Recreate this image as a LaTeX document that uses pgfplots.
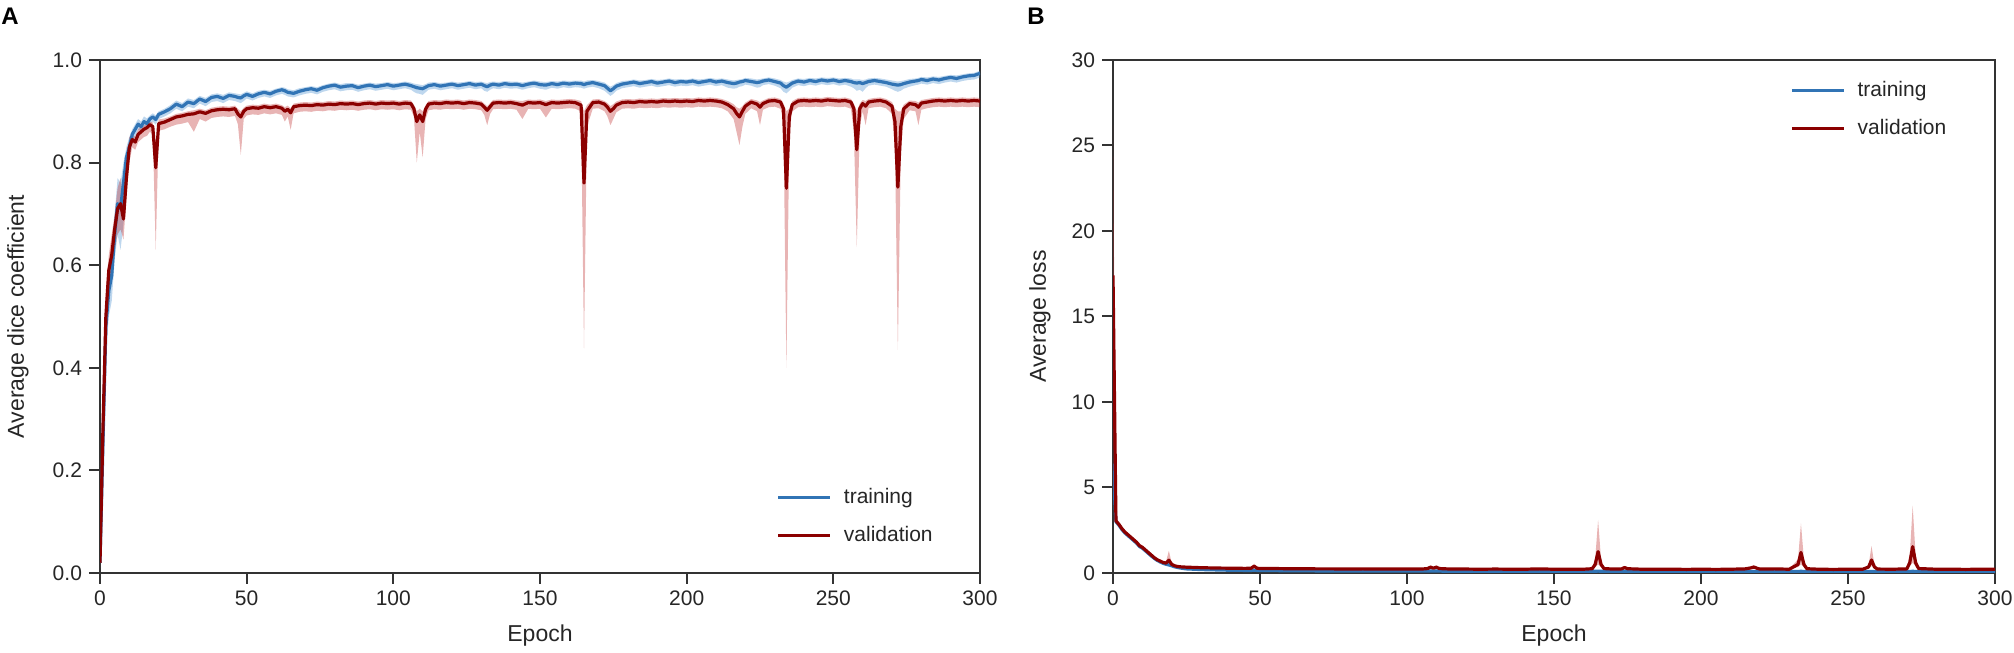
\documentclass[border=0pt]{standalone}
\usepackage{fontspec}
\setmainfont{Liberation Sans}
\usepackage{pgfplots}
\usepackage{pgfplotstable}
\pgfplotsset{compat=1.18}
\usepgfplotslibrary{fillbetween}

\definecolor{trainblue}{RGB}{49,116,181}
\definecolor{valred}{RGB}{139,0,0}
\definecolor{bandblue}{RGB}{70,140,205}
\definecolor{bandred}{RGB}{190,40,40}
\definecolor{spine}{RGB}{51,51,51}

% dice coefficient: epoch, training mean/low/high, validation mean/low/high
\pgfplotstableread{
ep tm tl th vm vl vh
0 0.02 0.01 0.03 0.02 0.01 0.03
1 0.25 0.20 0.30 0.28 0.22 0.34
2 0.48 0.42 0.53 0.50 0.44 0.55
3 0.55 0.50 0.60 0.59 0.55 0.62
4 0.58 0.53 0.63 0.62 0.58 0.66
5 0.66 0.61 0.70 0.67 0.63 0.70
6 0.72 0.66 0.77 0.71 0.66 0.75
7 0.71 0.63 0.76 0.72 0.67 0.77
8 0.76 0.68 0.80 0.69 0.65 0.73
9 0.81 0.77 0.83 0.77 0.73 0.80
10 0.83 0.81 0.85 0.83 0.80 0.85
11 0.855 0.84 0.865 0.845 0.83 0.855
12 0.865 0.85 0.875 0.84 0.825 0.85
13 0.875 0.865 0.885 0.855 0.84 0.865
14 0.87 0.86 0.88 0.86 0.845 0.87
15 0.88 0.87 0.89 0.865 0.85 0.872
16 0.876 0.866 0.886 0.868 0.852 0.876
17 0.885 0.875 0.892 0.874 0.86 0.88
18 0.889 0.88 0.896 0.87 0.856 0.878
19 0.884 0.874 0.892 0.79 0.63 0.84
20 0.894 0.885 0.9 0.876 0.862 0.884
22 0.899 0.89 0.905 0.879 0.865 0.886
24 0.905 0.896 0.912 0.884 0.87 0.89
26 0.914 0.905 0.921 0.889 0.874 0.895
28 0.909 0.9 0.916 0.891 0.876 0.897
30 0.918 0.909 0.925 0.894 0.879 0.9
32 0.915 0.906 0.922 0.895 0.86 0.902
34 0.924 0.915 0.93 0.899 0.885 0.905
36 0.919 0.91 0.926 0.896 0.88 0.902
38 0.927 0.918 0.933 0.901 0.887 0.907
40 0.929 0.92 0.935 0.903 0.889 0.909
42 0.925 0.916 0.932 0.904 0.89 0.91
44 0.931 0.922 0.937 0.903 0.889 0.909
46 0.929 0.92 0.935 0.905 0.891 0.911
47 0.927 0.918 0.934 0.895 0.875 0.905
48 0.926 0.916 0.933 0.889 0.815 0.9
49 0.93 0.92 0.936 0.9 0.885 0.907
50 0.933 0.925 0.939 0.905 0.892 0.911
52 0.929 0.921 0.935 0.907 0.894 0.913
54 0.934 0.926 0.94 0.906 0.893 0.912
56 0.937 0.929 0.942 0.909 0.896 0.915
58 0.934 0.926 0.94 0.907 0.894 0.913
60 0.939 0.931 0.944 0.909 0.896 0.915
62 0.942 0.934 0.947 0.906 0.893 0.912
63 0.94 0.932 0.946 0.9 0.88 0.908
64 0.937 0.929 0.943 0.904 0.89 0.911
65 0.936 0.928 0.942 0.897 0.864 0.906
66 0.935 0.927 0.941 0.909 0.896 0.915
68 0.939 0.931 0.945 0.911 0.899 0.917
70 0.942 0.934 0.947 0.912 0.9 0.918
72 0.944 0.936 0.949 0.911 0.899 0.917
74 0.941 0.933 0.947 0.913 0.901 0.919
76 0.946 0.938 0.951 0.912 0.9 0.918
78 0.949 0.941 0.954 0.914 0.902 0.92
80 0.951 0.943 0.956 0.913 0.901 0.919
82 0.947 0.939 0.953 0.915 0.903 0.921
84 0.949 0.941 0.955 0.914 0.902 0.92
86 0.95 0.942 0.955 0.915 0.903 0.921
88 0.946 0.938 0.952 0.913 0.901 0.919
90 0.949 0.941 0.954 0.915 0.903 0.921
92 0.951 0.943 0.956 0.916 0.904 0.922
94 0.948 0.94 0.954 0.914 0.902 0.92
96 0.95 0.942 0.955 0.916 0.904 0.922
98 0.952 0.944 0.957 0.915 0.903 0.921
100 0.949 0.941 0.955 0.916 0.904 0.922
102 0.951 0.943 0.956 0.914 0.902 0.92
104 0.953 0.945 0.958 0.916 0.904 0.922
106 0.95 0.942 0.956 0.915 0.903 0.921
107 0.948 0.938 0.954 0.905 0.89 0.913
108 0.946 0.935 0.953 0.88 0.8 0.9
109 0.945 0.934 0.952 0.893 0.86 0.905
110 0.944 0.932 0.951 0.88 0.81 0.9
111 0.947 0.937 0.953 0.904 0.885 0.912
112 0.95 0.942 0.956 0.914 0.902 0.92
114 0.952 0.944 0.957 0.916 0.904 0.922
116 0.949 0.941 0.955 0.915 0.903 0.921
118 0.951 0.943 0.956 0.917 0.905 0.923
120 0.953 0.945 0.958 0.916 0.904 0.922
122 0.95 0.942 0.956 0.917 0.905 0.923
124 0.952 0.944 0.957 0.915 0.903 0.921
126 0.954 0.946 0.959 0.917 0.905 0.923
128 0.951 0.943 0.957 0.916 0.904 0.922
130 0.953 0.945 0.958 0.914 0.902 0.92
131 0.95 0.94 0.956 0.908 0.893 0.915
132 0.948 0.938 0.955 0.902 0.873 0.91
133 0.951 0.942 0.957 0.909 0.895 0.916
134 0.953 0.945 0.958 0.916 0.904 0.922
136 0.951 0.943 0.957 0.917 0.905 0.923
138 0.954 0.946 0.959 0.916 0.904 0.922
140 0.952 0.944 0.958 0.917 0.905 0.923
142 0.953 0.945 0.958 0.915 0.903 0.921
144 0.95 0.942 0.956 0.912 0.885 0.92
146 0.953 0.945 0.958 0.917 0.905 0.923
148 0.955 0.947 0.96 0.916 0.904 0.922
150 0.952 0.944 0.958 0.917 0.905 0.923
152 0.951 0.942 0.957 0.913 0.888 0.92
154 0.954 0.946 0.959 0.917 0.905 0.923
156 0.952 0.944 0.958 0.916 0.904 0.922
158 0.955 0.947 0.96 0.917 0.905 0.923
160 0.953 0.945 0.959 0.918 0.906 0.924
162 0.955 0.947 0.96 0.917 0.905 0.923
164 0.954 0.946 0.96 0.912 0.9 0.92
165 0.952 0.944 0.958 0.76 0.438 0.9
166 0.954 0.946 0.96 0.9 0.87 0.912
168 0.956 0.948 0.961 0.917 0.905 0.923
170 0.953 0.945 0.959 0.918 0.906 0.924
172 0.95 0.94 0.956 0.914 0.9 0.92
173 0.945 0.935 0.952 0.908 0.89 0.916
174 0.94 0.93 0.948 0.9 0.873 0.91
175 0.944 0.934 0.951 0.905 0.885 0.914
176 0.949 0.94 0.955 0.912 0.898 0.919
178 0.953 0.945 0.959 0.917 0.905 0.923
180 0.955 0.947 0.96 0.918 0.906 0.924
182 0.957 0.949 0.962 0.917 0.905 0.923
184 0.954 0.946 0.96 0.919 0.907 0.925
186 0.956 0.948 0.961 0.918 0.906 0.924
188 0.958 0.95 0.963 0.919 0.907 0.925
190 0.955 0.947 0.961 0.918 0.906 0.924
192 0.957 0.949 0.962 0.92 0.908 0.926
194 0.959 0.951 0.964 0.919 0.907 0.925
196 0.956 0.948 0.962 0.92 0.908 0.926
198 0.958 0.95 0.963 0.919 0.907 0.925
200 0.957 0.949 0.962 0.92 0.908 0.926
202 0.959 0.951 0.964 0.919 0.907 0.925
204 0.956 0.948 0.962 0.921 0.909 0.927
206 0.958 0.95 0.963 0.92 0.908 0.926
208 0.96 0.952 0.965 0.921 0.909 0.927
210 0.957 0.949 0.963 0.92 0.908 0.926
212 0.959 0.951 0.964 0.918 0.906 0.924
214 0.956 0.946 0.962 0.913 0.9 0.92
216 0.954 0.944 0.96 0.905 0.885 0.914
217 0.955 0.945 0.961 0.896 0.86 0.908
218 0.957 0.948 0.962 0.889 0.834 0.905
219 0.958 0.949 0.963 0.9 0.87 0.91
220 0.96 0.952 0.965 0.91 0.895 0.917
222 0.958 0.95 0.964 0.918 0.906 0.924
224 0.956 0.946 0.962 0.914 0.9 0.921
225 0.957 0.947 0.963 0.908 0.873 0.918
226 0.959 0.951 0.964 0.915 0.903 0.921
228 0.961 0.953 0.966 0.92 0.908 0.926
230 0.958 0.95 0.964 0.921 0.909 0.927
232 0.955 0.945 0.961 0.918 0.905 0.924
233 0.95 0.938 0.958 0.905 0.88 0.915
234 0.947 0.935 0.956 0.75 0.4 0.9
235 0.951 0.94 0.958 0.89 0.86 0.905
236 0.955 0.946 0.961 0.913 0.9 0.92
238 0.959 0.951 0.964 0.92 0.908 0.926
240 0.957 0.949 0.963 0.921 0.909 0.927
242 0.96 0.952 0.965 0.92 0.908 0.926
244 0.958 0.95 0.964 0.921 0.909 0.927
246 0.961 0.953 0.966 0.92 0.908 0.926
248 0.959 0.951 0.965 0.922 0.91 0.928
250 0.961 0.953 0.966 0.921 0.909 0.927
252 0.958 0.95 0.964 0.92 0.908 0.926
254 0.96 0.952 0.965 0.921 0.909 0.927
256 0.958 0.948 0.964 0.918 0.905 0.924
257 0.956 0.945 0.962 0.905 0.86 0.915
258 0.955 0.94 0.962 0.825 0.635 0.9
259 0.956 0.942 0.962 0.905 0.87 0.915
260 0.954 0.938 0.961 0.915 0.9 0.922
261 0.956 0.945 0.962 0.91 0.873 0.92
262 0.958 0.95 0.964 0.918 0.906 0.924
264 0.96 0.952 0.965 0.92 0.908 0.926
266 0.958 0.95 0.964 0.921 0.909 0.927
268 0.956 0.948 0.962 0.918 0.906 0.924
270 0.953 0.943 0.96 0.91 0.895 0.918
271 0.952 0.94 0.959 0.88 0.83 0.905
272 0.951 0.938 0.958 0.752 0.435 0.9
273 0.952 0.94 0.959 0.87 0.82 0.9
274 0.954 0.944 0.96 0.905 0.885 0.913
276 0.957 0.948 0.963 0.915 0.902 0.921
278 0.959 0.951 0.964 0.913 0.9 0.92
279 0.96 0.952 0.965 0.908 0.873 0.917
280 0.962 0.954 0.967 0.916 0.903 0.922
282 0.96 0.952 0.966 0.918 0.906 0.924
284 0.963 0.955 0.968 0.92 0.908 0.926
286 0.961 0.953 0.967 0.921 0.909 0.927
288 0.964 0.956 0.969 0.92 0.908 0.926
290 0.966 0.958 0.971 0.921 0.909 0.927
292 0.964 0.956 0.97 0.92 0.908 0.926
294 0.967 0.959 0.972 0.921 0.909 0.927
296 0.969 0.961 0.974 0.92 0.908 0.926
298 0.97 0.962 0.975 0.921 0.909 0.927
300 0.974 0.966 0.979 0.92 0.908 0.926
}\dice

% loss: same columns
\pgfplotstableread{
ep tm tl th vm vl vh
0 6.4 4.5 7.0 17.4 9.0 26.2
1 3.0 2.9 3.1 3.05 2.95 3.2
2 2.8 2.7 2.9 2.85 2.75 2.95
3 2.55 2.45 2.65 2.6 2.5 2.7
4 2.35 2.25 2.45 2.4 2.3 2.5
5 2.2 2.1 2.3 2.25 2.15 2.35
6 2.05 1.95 2.15 2.1 2.0 2.2
7 1.9 1.8 2.0 1.95 1.85 2.05
8 1.75 1.65 1.85 1.8 1.7 1.9
9 1.55 1.45 1.65 1.6 1.5 1.7
10 1.45 1.35 1.55 1.5 1.4 1.6
11 1.3 1.2 1.4 1.35 1.25 1.45
12 1.15 1.05 1.25 1.2 1.1 1.3
13 1.0 0.92 1.08 1.05 0.97 1.13
14 0.86 0.8 0.93 0.9 0.83 0.97
15 0.74 0.68 0.8 0.78 0.72 0.85
16 0.65 0.6 0.7 0.7 0.64 0.76
17 0.57 0.52 0.62 0.62 0.57 0.68
18 0.51 0.47 0.56 0.58 0.53 0.64
19 0.47 0.43 0.52 0.75 0.6 1.3
20 0.42 0.38 0.46 0.5 0.45 0.56
21 0.36 0.33 0.4 0.42 0.38 0.47
22 0.32 0.29 0.35 0.38 0.34 0.42
23 0.29 0.26 0.32 0.36 0.33 0.4
24 0.26 0.24 0.29 0.35 0.32 0.38
25 0.24 0.22 0.27 0.34 0.31 0.37
30 0.2 0.18 0.22 0.31 0.28 0.34
35 0.18 0.16 0.2 0.29 0.26 0.32
40 0.16 0.14 0.18 0.28 0.25 0.31
45 0.15 0.13 0.17 0.27 0.24 0.3
47 0.15 0.13 0.17 0.28 0.25 0.32
48 0.16 0.14 0.18 0.4 0.3 0.55
49 0.15 0.13 0.17 0.28 0.25 0.32
50 0.14 0.12 0.16 0.26 0.23 0.29
55 0.14 0.12 0.16 0.26 0.23 0.29
60 0.13 0.11 0.15 0.25 0.22 0.28
65 0.13 0.11 0.15 0.25 0.22 0.28
70 0.12 0.1 0.14 0.24 0.21 0.27
75 0.12 0.1 0.14 0.24 0.21 0.27
80 0.12 0.1 0.14 0.23 0.2 0.26
85 0.11 0.09 0.13 0.24 0.21 0.27
90 0.11 0.09 0.13 0.23 0.2 0.26
95 0.11 0.09 0.13 0.23 0.2 0.26
100 0.11 0.09 0.13 0.23 0.2 0.26
105 0.11 0.09 0.13 0.23 0.2 0.26
107 0.11 0.09 0.13 0.26 0.22 0.3
108 0.12 0.1 0.14 0.34 0.25 0.45
109 0.11 0.09 0.13 0.28 0.23 0.34
110 0.12 0.1 0.14 0.34 0.25 0.45
111 0.11 0.09 0.13 0.26 0.22 0.3
115 0.1 0.08 0.12 0.23 0.2 0.26
120 0.1 0.08 0.12 0.23 0.2 0.26
125 0.1 0.08 0.12 0.22 0.19 0.25
130 0.1 0.08 0.12 0.23 0.2 0.26
135 0.1 0.08 0.12 0.22 0.19 0.25
140 0.1 0.08 0.12 0.22 0.19 0.25
145 0.1 0.08 0.12 0.24 0.2 0.28
150 0.1 0.08 0.12 0.22 0.19 0.25
155 0.1 0.08 0.12 0.22 0.19 0.25
160 0.1 0.08 0.12 0.22 0.19 0.25
163 0.1 0.08 0.12 0.25 0.21 0.3
164 0.1 0.08 0.12 0.5 0.35 0.8
165 0.11 0.09 0.13 1.25 0.5 3.1
166 0.1 0.08 0.12 0.5 0.35 0.8
167 0.1 0.08 0.12 0.26 0.22 0.3
170 0.1 0.08 0.12 0.23 0.2 0.26
173 0.1 0.08 0.12 0.24 0.2 0.28
174 0.1 0.08 0.12 0.32 0.25 0.42
175 0.1 0.08 0.12 0.25 0.21 0.3
180 0.09 0.07 0.11 0.22 0.19 0.25
185 0.09 0.07 0.11 0.22 0.19 0.25
190 0.09 0.07 0.11 0.22 0.19 0.25
195 0.09 0.07 0.11 0.21 0.18 0.24
200 0.09 0.07 0.11 0.22 0.19 0.25
205 0.09 0.07 0.11 0.21 0.18 0.24
210 0.09 0.07 0.11 0.22 0.19 0.25
215 0.09 0.07 0.11 0.24 0.2 0.28
217 0.09 0.07 0.11 0.3 0.24 0.38
218 0.09 0.07 0.11 0.35 0.26 0.45
219 0.09 0.07 0.11 0.28 0.23 0.34
220 0.09 0.07 0.11 0.23 0.2 0.26
225 0.09 0.07 0.11 0.24 0.2 0.28
230 0.09 0.07 0.11 0.22 0.19 0.25
233 0.09 0.07 0.11 0.5 0.35 0.8
234 0.1 0.08 0.12 1.2 0.5 2.9
235 0.09 0.07 0.11 0.5 0.35 0.8
236 0.09 0.07 0.11 0.25 0.21 0.3
240 0.09 0.07 0.11 0.22 0.19 0.25
245 0.09 0.07 0.11 0.21 0.18 0.24
250 0.09 0.07 0.11 0.22 0.19 0.25
255 0.09 0.07 0.11 0.22 0.19 0.25
257 0.09 0.07 0.11 0.35 0.3 0.45
258 0.09 0.07 0.11 0.76 0.4 1.58
259 0.09 0.07 0.11 0.35 0.3 0.45
260 0.09 0.07 0.11 0.23 0.2 0.26
265 0.09 0.07 0.11 0.22 0.19 0.25
270 0.09 0.07 0.11 0.24 0.2 0.28
271 0.09 0.07 0.11 0.6 0.4 1.0
272 0.1 0.08 0.12 1.54 0.6 3.94
273 0.09 0.07 0.11 0.6 0.4 1.0
274 0.09 0.07 0.11 0.26 0.22 0.3
280 0.08 0.06 0.1 0.22 0.19 0.25
285 0.08 0.06 0.1 0.22 0.19 0.25
290 0.08 0.06 0.1 0.21 0.18 0.24
295 0.08 0.06 0.1 0.22 0.19 0.25
300 0.08 0.06 0.1 0.22 0.19 0.25
}\loss

\pgfplotsset{
  panel/.style={
    scale only axis, width=440pt, height=256.5pt,
    anchor=south west,
    xmin=0, xmax=300, xtick={0,50,100,150,200,250,300},
    axis line style={draw=spine, line width=1pt},
    tick align=outside, tick pos=left,
    major tick length=5.5pt,
    tick style={draw=spine, line width=1pt},
    minor tick num=0,
    /pgf/number format/assume math mode=true,
    tick label style={font=\fontsize{10.5}{12}\selectfont, text=black!85},
    label style={font=\fontsize{11.5}{13}\selectfont, text=black!85},
    x label style={at={(axis description cs:0.5,0)}, anchor=base, yshift=-34.5pt},
    xlabel={Epoch},
    legend style={draw=none, fill=none, inner sep=0pt, outer sep=0pt,
      font=\fontsize{10.5}{12}\selectfont, text=black!85, row sep=6pt,
      /tikz/every odd column/.append style={column sep=4pt}},
    legend cell align=left,
    legend image code/.code={\draw[##1] (0pt,0pt) -- (26pt,0pt);},
  },
  meanline/.style={line width=1.6pt, line join=round},
}

\begin{document}
\begin{tikzpicture}

\begin{axis}[panel, at={(50pt,40pt)},
  ymin=0, ymax=1, ytick={0,0.2,0.4,0.6,0.8,1.0},
  yticklabel style={/pgf/number format/.cd, fixed, fixed zerofill, precision=1},
  ylabel={Average dice coefficient},
  y label style={at={(axis description cs:-0.0932,0.5)}, anchor=center},
  legend style={at={(axis description cs:0.769,0.110)}, anchor=west}]
\addplot[draw=none, name path=tlo, forget plot] table[x=ep, y=tl]{\dice};
\addplot[draw=none, name path=thi, forget plot] table[x=ep, y=th]{\dice};
\addplot[draw=none, name path=vlo, forget plot] table[x=ep, y=vl]{\dice};
\addplot[draw=none, name path=vhi, forget plot] table[x=ep, y=vh]{\dice};
\addplot[fill=bandblue, opacity=0.35, draw=none, forget plot] fill between[of=thi and tlo];
\addplot[fill=bandred, opacity=0.35, draw=none, forget plot] fill between[of=vhi and vlo];
\addplot[trainblue, meanline] table[x=ep, y=tm]{\dice};
\addplot[valred, meanline] table[x=ep, y=vm]{\dice};
\legend{training, validation}
\end{axis}

\begin{axis}[panel, at={(556.5pt,40pt)}, width=441pt,
  ymin=0, ymax=30, ytick={0,5,10,15,20,25,30},
  ylabel={Average loss},
  y label style={at={(axis description cs:-0.0829,0.5)}, anchor=center},
  legend style={at={(axis description cs:0.768,0.903)}, anchor=west}]
\addplot[draw=none, name path=tlo, forget plot] table[x=ep, y=tl]{\loss};
\addplot[draw=none, name path=thi, forget plot] table[x=ep, y=th]{\loss};
\addplot[draw=none, name path=vlo, forget plot] table[x=ep, y=vl]{\loss};
\addplot[draw=none, name path=vhi, forget plot] table[x=ep, y=vh]{\loss};
\addplot[fill=bandblue, opacity=0.35, draw=none, forget plot] fill between[of=thi and tlo];
\addplot[fill=bandred, opacity=0.35, draw=none, forget plot] fill between[of=vhi and vlo];
\addplot[trainblue, meanline] table[x=ep, y=tm]{\loss};
\addplot[valred, meanline] table[x=ep, y=vm]{\loss};
\legend{training, validation}
\end{axis}

\node[anchor=base west, inner sep=0pt, font=\bfseries\fontsize{12}{14}\selectfont] at (0.5pt,314pt) {A};
\node[anchor=base west, inner sep=0pt, font=\bfseries\fontsize{12}{14}\selectfont] at (513.5pt,314pt) {B};

\pgfresetboundingbox
\path[use as bounding box] (0,0) rectangle (1007pt,326.5pt);
\end{tikzpicture}
\end{document}
